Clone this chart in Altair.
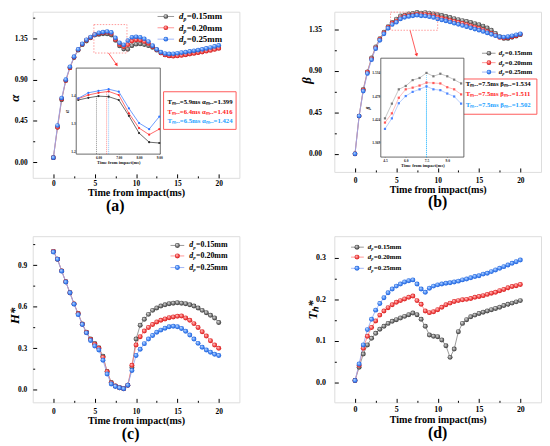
import altair as alt
import pandas as pd

# ---------------- data ----------------
TIME = [0.0, 0.5, 1.0, 1.5, 2.0, 2.5, 3.0, 3.5, 4.0, 4.5, 5.0, 5.5, 6.0, 6.5, 7.0, 7.5,
        8.0, 8.5, 9.0, 9.5, 10.0, 10.5, 11.0, 11.5, 12.0, 12.5, 13.0, 13.5, 14.0, 14.5,
        15.0, 15.5, 16.0, 16.5, 17.0, 17.5, 18.0, 18.5, 19.0, 19.5, 20.0]
KEYS = ["0.15", "0.20", "0.25"]
LEGEND_LABELS = ["=0.15mm", "=0.20mm", "=0.25mm"]

ALPHA_015 = [0.05, 0.38, 0.68, 0.89, 1.03, 1.14, 1.22, 1.28, 1.32, 1.355, 1.385, 1.393, 1.399, 1.397,
             1.385, 1.328, 1.266, 1.233, 1.23, 1.27, 1.285, 1.288, 1.282, 1.27, 1.25, 1.22, 1.19,
             1.17, 1.16, 1.158, 1.162, 1.168, 1.175, 1.182, 1.19, 1.198, 1.205, 1.215, 1.225, 1.235, 1.245]
ALPHA_020 = [0.05, 0.38, 0.69, 0.89, 1.03, 1.145, 1.225, 1.285, 1.33, 1.36, 1.39, 1.403, 1.411, 1.416,
             1.403, 1.337, 1.284, 1.26, 1.28, 1.32, 1.332, 1.33, 1.315, 1.295, 1.26, 1.225, 1.19,
             1.168, 1.158, 1.155, 1.158, 1.163, 1.17, 1.178, 1.185, 1.193, 1.2, 1.21, 1.218, 1.228, 1.24]
ALPHA_025 = [0.05, 0.40, 0.70, 0.90, 1.04, 1.15, 1.23, 1.29, 1.335, 1.365, 1.391, 1.411, 1.418, 1.424,
             1.415, 1.355, 1.302, 1.28, 1.325, 1.362, 1.367, 1.362, 1.345, 1.315, 1.27, 1.23, 1.2,
             1.185, 1.18, 1.182, 1.188, 1.195, 1.2, 1.208, 1.215, 1.222, 1.23, 1.24, 1.25, 1.262, 1.274]

BETA_015 = [0.0, 0.41, 0.70, 0.89, 1.04, 1.16, 1.25, 1.32, 1.38, 1.426, 1.461, 1.495, 1.503, 1.517,
            1.522, 1.534, 1.526, 1.532, 1.526, 1.518, 1.509, 1.50, 1.49, 1.478, 1.466, 1.455, 1.445,
            1.435, 1.425, 1.412, 1.40, 1.385, 1.365, 1.34, 1.305, 1.27, 1.25, 1.25, 1.262, 1.275, 1.29]
BETA_020 = [0.0, 0.41, 0.69, 0.885, 1.03, 1.15, 1.24, 1.31, 1.37, 1.416, 1.438, 1.475, 1.495, 1.499,
            1.504, 1.511, 1.51, 1.509, 1.50, 1.495, 1.483, 1.472, 1.46, 1.448, 1.436, 1.425, 1.413,
            1.40, 1.388, 1.374, 1.36, 1.345, 1.325, 1.305, 1.285, 1.26, 1.255, 1.26, 1.27, 1.28, 1.295]
BETA_025 = [0.0, 0.41, 0.68, 0.87, 1.02, 1.14, 1.23, 1.30, 1.36, 1.401, 1.426, 1.462, 1.479, 1.489,
            1.495, 1.502, 1.495, 1.493, 1.485, 1.478, 1.461, 1.45, 1.44, 1.428, 1.415, 1.403, 1.39,
            1.378, 1.365, 1.352, 1.34, 1.325, 1.31, 1.295, 1.28, 1.268, 1.265, 1.27, 1.28, 1.29, 1.30]

H_015 = [1.0, 0.943, 0.859, 0.78, 0.70, 0.62, 0.55, 0.475, 0.415, 0.365, 0.334, 0.303, 0.24, 0.131,
         0.05, 0.026, 0.013, 0.006, 0.03, 0.16, 0.365, 0.465, 0.508, 0.544, 0.573, 0.59, 0.604,
         0.613, 0.621, 0.625, 0.628, 0.625, 0.621, 0.613, 0.604, 0.59, 0.573, 0.556, 0.537, 0.518, 0.485]
H_020 = [1.0, 0.943, 0.859, 0.78, 0.70, 0.62, 0.548, 0.473, 0.413, 0.362, 0.328, 0.298, 0.232, 0.128,
         0.048, 0.025, 0.012, 0.005, 0.03, 0.175, 0.322, 0.382, 0.423, 0.449, 0.47, 0.489, 0.501,
         0.511, 0.52, 0.525, 0.53, 0.532, 0.518, 0.501, 0.477, 0.449, 0.418, 0.387, 0.353, 0.322, 0.298]
H_025 = [0.995, 0.943, 0.857, 0.778, 0.70, 0.618, 0.542, 0.47, 0.41, 0.355, 0.315, 0.286, 0.212, 0.112,
         0.04, 0.022, 0.012, 0.005, 0.031, 0.138, 0.246, 0.291, 0.332, 0.365, 0.391, 0.415, 0.43,
         0.444, 0.454, 0.458, 0.454, 0.442, 0.422, 0.394, 0.365, 0.334, 0.306, 0.286, 0.27, 0.255, 0.246]

TH_015 = [0.004, 0.036, 0.068, 0.09, 0.106, 0.118, 0.128, 0.135, 0.142, 0.147, 0.151, 0.155, 0.159, 0.163,
          0.167, 0.163, 0.152, 0.135, 0.114, 0.111, 0.11, 0.102, 0.088, 0.06, 0.08, 0.122, 0.142,
          0.151, 0.158, 0.162, 0.166, 0.169, 0.172, 0.175, 0.178, 0.181, 0.185, 0.188, 0.191, 0.194, 0.197]
TH_020 = [0.004, 0.041, 0.082, 0.111, 0.132, 0.148, 0.162, 0.172, 0.18, 0.187, 0.193, 0.197, 0.201, 0.205,
          0.208, 0.197, 0.188, 0.172, 0.168, 0.17, 0.175, 0.181, 0.187, 0.191, 0.195, 0.197, 0.199,
          0.2, 0.202, 0.205, 0.207, 0.209, 0.212, 0.215, 0.217, 0.221, 0.224, 0.228, 0.231, 0.233, 0.236]
TH_025 = [0.004, 0.044, 0.09, 0.127, 0.152, 0.174, 0.19, 0.204, 0.216, 0.225, 0.232, 0.237, 0.242, 0.245,
          0.247, 0.237, 0.225, 0.217, 0.227, 0.232, 0.235, 0.237, 0.239, 0.24, 0.242, 0.244, 0.247,
          0.249, 0.252, 0.255, 0.257, 0.261, 0.263, 0.267, 0.271, 0.275, 0.279, 0.283, 0.287, 0.291, 0.295]

X_TICKS = [0, 5, 10, 15, 20]
X_MINOR = [2.5, 7.5, 12.5, 17.5]
ALPHA_TICKS = [0.0, 0.45, 0.9, 1.35]
ALPHA_MINOR = [0.225, 0.675, 1.125, 1.575]
BETA_TICKS = [0.0, 0.45, 0.9, 1.35]
BETA_MINOR = [0.225, 0.675, 1.125]
H_TICKS = [0.0, 0.3, 0.6, 0.9]
H_MINOR = [0.15, 0.45, 0.75, 1.05]
TH_TICKS = [0.0, 0.1, 0.2, 0.3]
TH_MINOR = [0.05, 0.15, 0.25]

A_TMAX = [5.9, 6.4, 6.5]
A_MAX = [1.399, 1.416, 1.424]
B_TMAX = [7.5, 7.5, 7.5]
B_MAX = [1.534, 1.511, 1.502]

INSET_A_XTICKS = [6, 7, 8, 9]
INSET_A_YTICKS = [1.2, 1.3, 1.4]
INSET_B_XTICKS = [4.5, 6.0, 7.5, 9.0]
INSET_B_YTICKS = [1.369, 1.424, 1.479, 1.534]

# ---------------- style ----------------
FONT = "Liberation Serif"
TS = 4
W = 209
X_DOM = [-2.5, 22.5]

STYLE = {
    "0.15": dict(base="#1e1e1e", mid="#a0a0a0", line="#808080", ia="#2a2a2a",
                 ibl="#b0b0b0", ibp="#7a7a7a", txt="#000000"),
    "0.20": dict(base="#cc0000", mid="#ff7272", line="#ff7d7d", ia="#ff2a2a",
                 ibl="#ffa0a0", ibp="#ff5a5a", txt="#ff1a1a"),
    "0.25": dict(base="#0a4fd0", mid="#66a3ff", line="#8da6f5", ia="#2f74ff",
                 ibl="#9dbdff", ibp="#4d86ff", txt="#1a9fff"),
}


def ball(key):
    s = STYLE[key]
    return {"gradient": "radial", "x1": 0.36, "y1": 0.32, "r1": 0.0,
            "x2": 0.5, "y2": 0.5, "r2": 0.55,
            "stops": [{"offset": 0.0, "color": "#ffffff"},
                      {"offset": 0.38, "color": s["mid"]},
                      {"offset": 1.0, "color": s["base"]}]}


def long_frame(series):
    rows = []
    for key, vals in zip(KEYS, series):
        for t, v in zip(TIME, vals):
            rows.append({"t": t, "v": v, "s": key})
    return pd.DataFrame(rows)


def build_inset(cfg, df, H):
    ic = cfg["inset"]
    its = 2
    ixs = alt.Scale(domain=ic["xdom"], range=ic["xr"], nice=False, zero=False)
    iys = alt.Scale(domain=ic["ydom"], range=ic["yr"], nice=False, zero=False)
    iax = alt.Axis(orient="bottom", offset=ic["yr"][0] - its - H, tickSize=its, domain=False,
                   grid=False, values=ic["xticks"], format=ic["xfmt"], labelFont=FONT,
                   labelFontWeight="bold", labelFontSize=3.6, labelPadding=1, labelColor="#222",
                   labelFlush=False, labelOverlap=False, tickColor="#333", tickWidth=0.5,
                   title="Time from impact(ms)", titleFont=FONT, titleFontWeight="bold",
                   titleFontSize=4.6, titlePadding=0.5, titleColor="#222")
    iay = alt.Axis(orient="left", offset=-(ic["xr"][0] + its), tickSize=its, domain=False,
                   grid=False, values=ic["yticks"], format=ic["yfmt"], labelFont=FONT,
                   labelFontWeight="bold", labelFontSize=3.6, labelPadding=1, labelColor="#222",
                   labelFlush=False, labelOverlap=False, tickColor="#333", tickWidth=0.5,
                   title=cfg["ytitle"], titleFont=FONT, titleFontWeight="bold", titleFontStyle="italic",
                   titleFontSize=5.5, titlePadding=1, titleColor="#222")
    IX = lambda f: alt.X(f, type="quantitative", scale=ixs, axis=iax)
    IY = lambda f: alt.Y(f, type="quantitative", scale=iys, axis=iay)

    frame = pd.DataFrame({"x1": [ic["xdom"][0]], "x2": [ic["xdom"][1]],
                          "y1": [ic["ydom"][0]], "y2": [ic["ydom"][1]]})
    layers = [alt.Chart(frame).mark_rect(fill="white", stroke="#444", strokeWidth=0.8).encode(
        x=IX("x1"), x2=alt.X2("x2"), y=IY("y1"), y2=alt.Y2("y2"))]

    vl = pd.DataFrame({"s": KEYS, "t": ic["tmax"], "vmax": ic["vmax"],
                       "v0": [ic["ydom"][0]] * 3})
    for k, col in zip(KEYS, ic["vcolors"]):
        layers.append(alt.Chart(vl).transform_filter(alt.datum.s == k).mark_rule(
            color=col, strokeWidth=0.6, strokeDash=[1, 1]).encode(
            x=IX("t"), y=IY("v0"), y2=alt.Y2("vmax")))

    sub = df[(df["t"] >= ic["xdom"][0]) & (df["t"] <= ic["xdom"][1])]
    for k in KEYS:
        lc = STYLE[k][ic["linekey"]]
        pc = STYLE[k][ic["ptkey"]]
        base = alt.Chart(sub).transform_filter(alt.datum.s == k)
        layers.append(base.mark_line(color=lc, strokeWidth=0.7).encode(x=IX("t"), y=IY("v")))
        layers.append(base.mark_point(shape=ic["shape"], filled=True, color=pc, size=5,
                                      opacity=1).encode(x=IX("t"), y=IY("v")))
    return alt.layer(*layers)


def panel(cfg):
    H = cfg["h"]
    xs = alt.Scale(domain=X_DOM, nice=False, zero=False)
    ys = alt.Scale(domain=cfg["ydom"], nice=False, zero=False)
    ax = alt.Axis(orient="bottom", offset=-TS, tickSize=TS, domain=False, grid=False,
                  values=X_TICKS, format="d", labelFont=FONT, labelFontWeight="bold",
                  labelFontSize=cfg["lfs"], labelPadding=cfg["xlp"], labelColor="black",
                  labelFlush=False, labelOverlap=False, tickColor="black",
                  title="Time from impact(ms)", titleFont=FONT, titleFontWeight="bold",
                  titleFontSize=10.2, titlePadding=cfg["xtp"], titleColor="black")
    ay = alt.Axis(orient="left", offset=-TS, tickSize=TS, domain=False, grid=False,
                  values=cfg["yticks"], format=cfg["yfmt"], labelFont=FONT, labelFontWeight="bold",
                  labelFontSize=cfg["lfs"], labelPadding=cfg["ylp"], labelColor="black",
                  labelFlush=False, labelOverlap=False, tickColor="black",
                  title=cfg["ytitle"], titleFont=FONT, titleFontWeight="bold", titleFontStyle="italic",
                  titleFontSize=13, titleAngle=270, titleX=cfg["ytx"], titleY=cfg["yty"],
                  titleAlign="center", titleBaseline="middle", titleColor="black")
    mts = 2
    max_ = alt.Axis(orient="bottom", offset=-mts, tickSize=mts, domain=False, grid=False,
                    values=X_MINOR, labels=False, title="", tickColor="black")
    may_ = alt.Axis(orient="left", offset=-mts, tickSize=mts, domain=False, grid=False,
                    values=cfg["yminor"], labels=False, title="", tickColor="black")
    X = lambda f: alt.X(f, type="quantitative", scale=xs, axis=ax)
    Y = lambda f: alt.Y(f, type="quantitative", scale=ys, axis=ay)

    df = long_frame(cfg["series"])
    layers = []
    for k in KEYS:
        layers.append(alt.Chart(df).transform_filter(alt.datum.s == k).mark_line(
            color=STYLE[k]["line"], strokeWidth=0.8).encode(x=X("t"), y=Y("v")))
    for k in KEYS:
        layers.append(alt.Chart(df).transform_filter(alt.datum.s == k).mark_circle(
            fill=ball(k), size=cfg["size"], opacity=1, strokeWidth=0).encode(x=X("t"), y=Y("v")))

    # legend
    L = cfg["leg"]
    leg = pd.DataFrame({"s": KEYS, "lab": LEGEND_LABELS, "y": L["y"]})
    leg["x1"] = L["x1"]
    leg["x2"] = L["x2"]
    leg["bx"] = L["bx"]
    leg["tx"] = L["tx"]
    for k in KEYS:
        b = alt.Chart(leg).transform_filter(alt.datum.s == k)
        layers.append(b.mark_rule(color=STYLE[k]["line"], strokeWidth=0.8).encode(
            x=X("x1"), x2=alt.X2("x2"), y=Y("y")))
        layers.append(b.mark_circle(fill=ball(k), size=cfg["size"], opacity=1).encode(
            x=X("bx"), y=Y("y")))
    fs = L["fs"]
    lt = alt.Chart(leg)
    layers.append(lt.mark_text(text="d", font=FONT, fontWeight="bold", fontStyle="italic",
                               fontSize=fs, align="left", baseline="middle", color="black").encode(
        x=X("tx"), y=Y("y")))
    layers.append(lt.mark_text(text="p", font=FONT, fontWeight="bold", fontStyle="italic",
                               fontSize=fs * 0.62, align="left", baseline="middle", color="black",
                               dx=fs * 0.5, dy=fs * 0.32).encode(x=X("tx"), y=Y("y")))
    layers.append(lt.mark_text(font=FONT, fontWeight="bold", fontSize=fs, align="left",
                               baseline="middle", color="black", dx=fs * 0.86).encode(
        x=X("tx"), y=Y("y"), text="lab:N"))

    # annotation
    if "ann" in cfg:
        A = cfg["ann"]
        box = pd.DataFrame({"x1": [A["box"][0]], "x2": [A["box"][1]],
                            "y1": [A["box"][2]], "y2": [A["box"][3]]})
        layers.append(alt.Chart(box).mark_rect(fill="white", stroke="#ff5a5a", strokeWidth=1).encode(
            x=X("x1"), x2=alt.X2("x2"), y=Y("y1"), y2=alt.Y2("y2")))
        txt = pd.DataFrame({"s": KEYS, "lab": A["texts"], "y": A["ty"]})
        txt["x"] = A["tx"]
        for k in KEYS:
            layers.append(alt.Chart(txt).transform_filter(alt.datum.s == k).mark_text(
                font=FONT, fontWeight="bold", fontSize=6.8, align="left", baseline="middle",
                color=STYLE[k]["txt"]).encode(x=X("x"), y=Y("y"), text="lab:N"))
        dbox = pd.DataFrame({"x1": [A["dbox"][0]], "x2": [A["dbox"][1]],
                             "y1": [A["dbox"][2]], "y2": [A["dbox"][3]]})
        layers.append(alt.Chart(dbox).mark_rect(fill="transparent", stroke="#ff7070",
                                                strokeWidth=0.7, strokeDash=[1.5, 1.5]).encode(
            x=X("x1"), x2=alt.X2("x2"), y=Y("y1"), y2=alt.Y2("y2")))
        arr = pd.DataFrame({"x1": [A["arrow"][0]], "y1": [A["arrow"][1]],
                            "x2": [A["arrow"][2]], "y2": [A["arrow"][3]]})
        layers.append(alt.Chart(arr).mark_rule(color="#ff3030", strokeWidth=0.8).encode(
            x=X("x1"), y=Y("y1"), x2=alt.X2("x2"), y2=alt.Y2("y2")))
        layers.append(alt.Chart(arr).mark_point(shape="triangle-down", filled=True, size=14,
                                                color="#ff3030", opacity=1,
                                                angle=A["angle"]).encode(x=X("x2"), y=Y("y2")))

    minor = alt.Chart(df).mark_point(opacity=0, size=1).encode(
        x=alt.X("t", type="quantitative", scale=xs, axis=max_),
        y=alt.Y("v", type="quantitative", scale=ys, axis=may_))
    main = alt.layer(alt.layer(*layers), minor).resolve_axis(x="independent", y="independent")
    if "inset" in cfg:
        ch = alt.layer(main, build_inset(cfg, df, H)).resolve_scale(x="independent", y="independent")
    else:
        ch = main
    return ch.properties(width=W, height=H, title=alt.TitleParams(
        cfg["label"], orient="bottom", font=FONT, fontWeight="bold", fontSize=16,
        color="black", dx=cfg["tdx"], offset=cfg["toff"]))


def tmax_texts(tmax, vmax, sym):
    return [f"Tₘₐₓ={t}ms  {sym}ₘₐₓ={v:.3f}" for t, v in zip(tmax, vmax)]


cfg_a = dict(series=[ALPHA_015, ALPHA_020, ALPHA_025], h=168, ydom=[-0.17, 1.64],
             yticks=ALPHA_TICKS, yminor=ALPHA_MINOR, yfmt=".2f", ytitle="α", ytx=-22.5, yty=87,
             ylp=5.5, xlp=2, xtp=0.5, lfs=7.5, label="(a)", tdx=-21, toff=0.5, size=22,
             leg=dict(y=[1.588, 1.465, 1.341], x1=12.6, x2=14.6, bx=13.6, tx=15.2, fs=9),
             ann=dict(box=[13.33, 22.1, 0.358, 0.768], tx=13.8, ty=[0.66, 0.552, 0.444],
                      texts=tmax_texts(A_TMAX, A_MAX, "α"),
                      dbox=[4.9, 8.9, 1.19, 1.50], arrow=[6.67, 1.19, 7.66, 1.061], angle=325),
             inset=dict(xdom=[4.9, 9.05], xr=[44, 129], ydom=[1.19, 1.50], yr=[144, 57],
                        xticks=INSET_A_XTICKS, xfmt=".2f", yticks=INSET_A_YTICKS, yfmt=".1f",
                        tmax=A_TMAX, vmax=A_MAX, vcolors=["#444444", "#ff4040", "#3fa0ff"],
                        linekey="ia", ptkey="ia", shape="circle"))

cfg_b = dict(series=[BETA_015, BETA_020, BETA_025], h=162, ydom=[-0.196, 1.54],
             yticks=BETA_TICKS, yminor=BETA_MINOR, yfmt=".2f", ytitle="β", ytx=-32, yty=69,
             ylp=13, xlp=4.6, xtp=0.3, lfs=7.5, label="(b)", tdx=0, toff=0, size=22,
             leg=dict(y=[1.09, 0.988, 0.886], x1=15.36, x2=17.0, bx=16.2, tx=17.4, fs=7),
             ann=dict(box=[13.1, 22.0, 0.429, 0.811], tx=13.4, ty=[0.757, 0.645, 0.532],
                      texts=tmax_texts(B_TMAX, B_MAX, "β"),
                      dbox=[4.3, 10.0, 1.339, 1.535], arrow=[6.67, 1.336, 7.46, 1.071], angle=345),
             inset=dict(xdom=[4.2, 10.2], xr=[47, 131], ydom=[1.334, 1.569], yr=[147, 47],
                        xticks=INSET_B_XTICKS, xfmt=".1f", yticks=INSET_B_YTICKS, yfmt=".3f",
                        tmax=B_TMAX, vmax=B_MAX, vcolors=["#33bbff", "#33bbff", "#33bbff"],
                        linekey="ibl", ptkey="ibp", shape="square"))

cfg_c = dict(series=[H_015, H_020, H_025], h=168, ydom=[-0.093, 1.11],
             yticks=H_TICKS, yminor=H_MINOR, yfmt=".1f", ytitle="H*", ytx=-22.5, yty=80,
             ylp=6, xlp=5.6, xtp=0.3, lfs=7.5, label="(c)", tdx=-5.5, toff=0, size=25,
             leg=dict(y=[1.043, 0.967, 0.883], x1=14.17, x2=15.83, bx=15.0, tx=16.43, fs=8))

cfg_d = dict(series=[TH_015, TH_020, TH_025], h=168, ydom=[-0.0485, 0.3525],
             yticks=TH_TICKS, yminor=TH_MINOR, yfmt=".1f", ytitle="Tₕ*", ytx=-26, yty=74,
             ylp=9, xlp=3.6, xtp=1.3, lfs=8, label="(d)", tdx=0, toff=0, size=25,
             leg=dict(y=[0.326, 0.302, 0.275], x1=-0.48, x2=1.07, bx=0.24, tx=1.55, fs=7))

chart = alt.concat(panel(cfg_a), panel(cfg_b), panel(cfg_c), panel(cfg_d), columns=2,
                   spacing={"row": 59, "column": 96}, bounds="flush").properties(
    padding={"left": 0, "top": -1.7, "right": 0, "bottom": 0}
).configure_view(stroke="black", strokeWidth=1).configure(background="white")

chart.save("out.html", embed_options={"renderer": "svg", "actions": False})
